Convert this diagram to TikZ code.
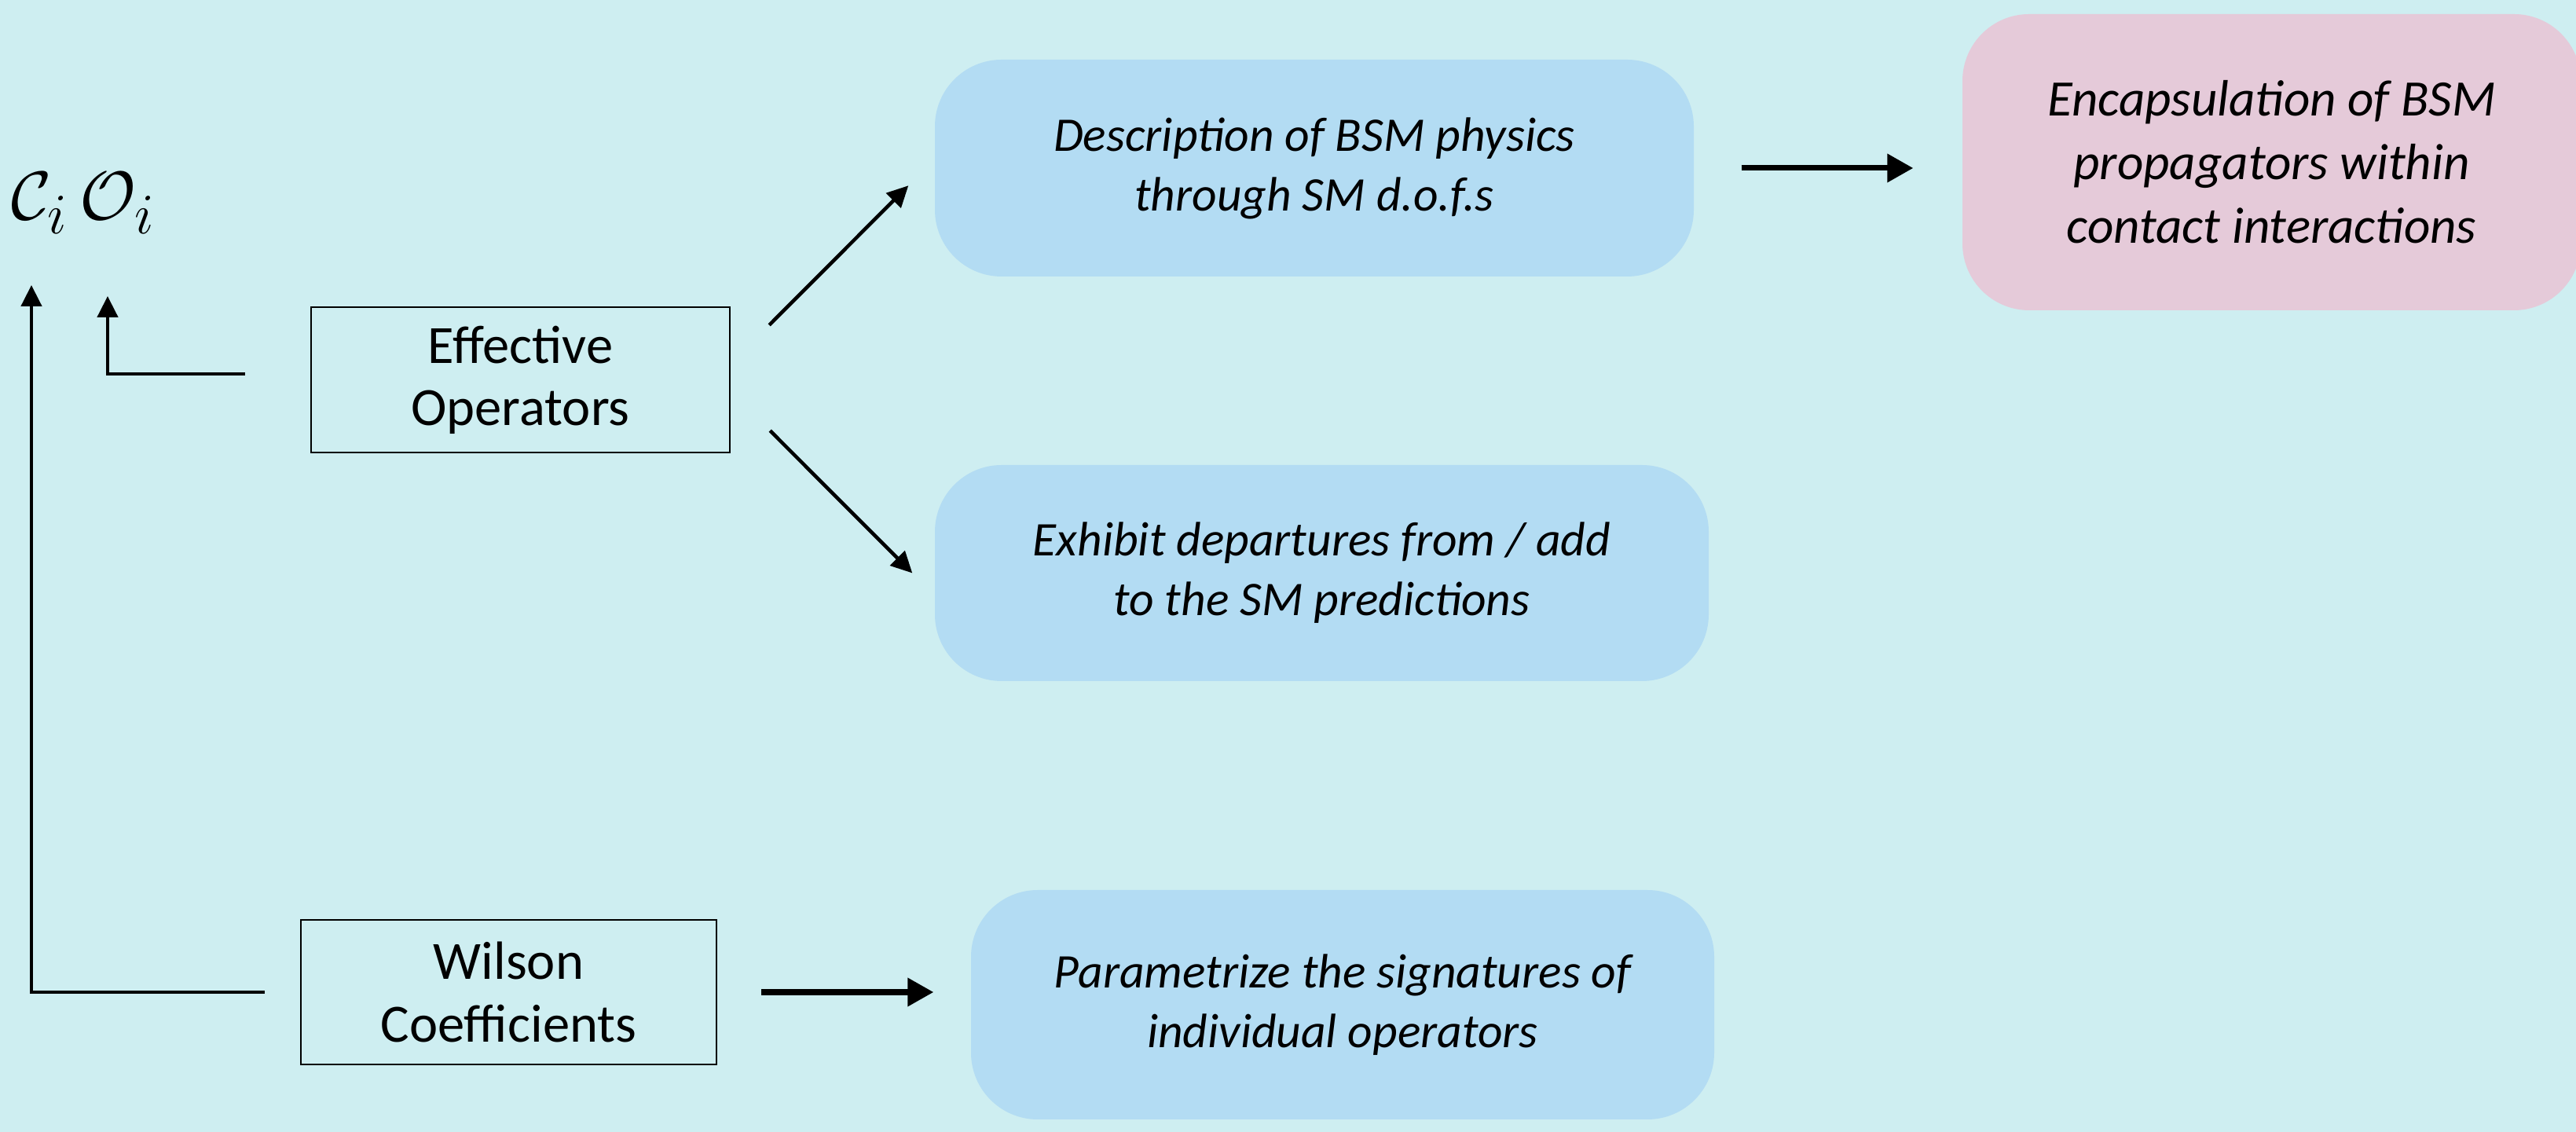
\documentclass[tikz,border=0pt]{standalone}
\usepackage{fontspec}
\setmainfont{Carlito}
\usetikzlibrary{arrows.meta, positioning, calc}
\definecolor{slidebg}{RGB}{206,238,241}
\definecolor{bsmblue}{RGB}{179,220,243}
\definecolor{bsmpink}{RGB}{229,202,217}
\tikzset{
    opbox/.style={draw=black, line width=0.7pt, align=center, inner sep=0pt, font=\fontsize{19.5}{22.5}\selectfont},
    idea/.style={fill=bsmblue, rounded corners=0.85cm, align=center, inner sep=0pt, font=\fontsize{17.5}{21.6}\selectfont\itshape},
    arrow/.style={-{Triangle[length=0.27cm, width=0.26cm]}, line width=1.3pt},
    bigarrow/.style={-{Triangle[length=0.33cm, width=0.35cm]}, line width=2pt}
}

\begin{document}
\begin{tikzpicture}
    \fill[slidebg] (0,0) rectangle (32.79,14.41);
    \useasboundingbox (0,0) rectangle (32.79,14.41);
    % left column
    \node [anchor=base east, inner sep=0pt, font=\fontsize{29.5}{32}\selectfont] (ciOi) at (1.98,11.61) {$\mathcal{C}_i\,\mathcal{O}_i$};
    \coordinate (ciTip) at (0.40,10.78);
    \coordinate (oiTip) at (1.37,10.64);
    \node [opbox, minimum width=5.33cm, minimum height=1.85cm] (effop) at (6.625,9.575) {Effective\\Operators};
    \node [opbox, minimum width=5.29cm, minimum height=1.84cm] (wilson) at (6.475,1.78) {Wilson\\Coefficients};
    % right column
    \node [idea, minimum width=9.66cm, minimum height=2.76cm] (desc) at (16.73,12.27) {Description of BSM physics\\through SM d.o.f.s};
    \node [idea, minimum width=9.85cm, minimum height=2.75cm] (exhib) at (16.825,7.115) {Exhibit departures from / add\\to the SM predictions};
    \node [idea, minimum width=9.46cm, minimum height=2.92cm] (param) at (17.09,1.62) {Parametrize the signatures of\\individual operators};
    \node [idea, fill=bsmpink, minimum width=7.87cm, minimum height=3.77cm, font=\fontsize{18.5}{23}\selectfont\itshape] (encaps) at (28.915,12.345) {Encapsulation of BSM\\propagators within\\contact interactions};
    % connectors
    \draw [arrow] ([xshift=-0.45cm]wilson.west) -| (ciTip);
    \draw [arrow] ([xshift=-0.83cm, yshift=0.075cm]effop.west) -| (oiTip);
    \draw [arrow] ([shift={(0.49,-0.24)}]effop.north east) -- ([shift={(-0.33,-1.61)}]desc.north west);
    \draw [arrow] ([shift={(0.50,0.29)}]effop.south east) -- ([xshift=-0.28cm]exhib.west);
    \draw [bigarrow] ([xshift=0.60cm]desc.east) -- ([xshift=-0.62cm]encaps.west |- desc.east);
    \draw [bigarrow] ([xshift=0.56cm]wilson.east) -- ([xshift=-0.47cm]param.west |- wilson.east);
\end{tikzpicture}
\end{document}
